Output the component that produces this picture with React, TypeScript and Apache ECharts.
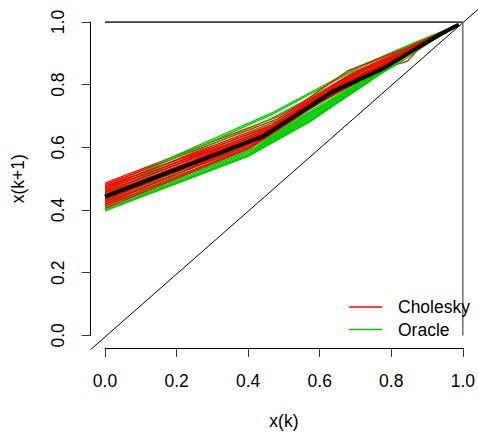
import React, { useEffect, useRef } from "react";
import * as echarts from "echarts";

// Each trajectory: successive values x(0), x(1), x(2), ... ; plotted as (x(k), x(k+1))
const choleskyRuns: number[][] = [
  [0, 0.486, 0.700, 0.842, 0.915, 0.955, 0.975, 0.985, 0.990],
  [0, 0.481, 0.690, 0.835, 0.910, 0.951, 0.973, 0.984, 0.990],
  [0, 0.476, 0.672, 0.815, 0.895, 0.942, 0.967, 0.981, 0.988, 0.991],
  [0, 0.472, 0.680, 0.845, 0.918, 0.956, 0.976, 0.986, 0.990],
  [0, 0.468, 0.662, 0.800, 0.880, 0.930, 0.960, 0.977, 0.986, 0.990],
  [0, 0.464, 0.670, 0.822, 0.900, 0.944, 0.968, 0.981, 0.988, 0.991],
  [0, 0.460, 0.655, 0.795, 0.874, 0.925, 0.956, 0.974, 0.984, 0.989, 0.991],
  [0, 0.456, 0.660, 0.812, 0.890, 0.937, 0.964, 0.979, 0.987, 0.991],
  [0, 0.452, 0.645, 0.785, 0.865, 0.918, 0.951, 0.971, 0.983, 0.989, 0.991],
  [0, 0.448, 0.650, 0.800, 0.878, 0.928, 0.958, 0.975, 0.985, 0.990],
  [0, 0.444, 0.636, 0.776, 0.856, 0.910, 0.945, 0.967, 0.980, 0.987, 0.991],
  [0, 0.440, 0.642, 0.790, 0.870, 0.922, 0.954, 0.973, 0.984, 0.989, 0.991],
  [0, 0.435, 0.625, 0.765, 0.848, 0.904, 0.941, 0.964, 0.978, 0.986, 0.990],
  [0, 0.430, 0.630, 0.782, 0.866, 0.920, 0.953, 0.972, 0.984, 0.989, 0.991],
  [0, 0.425, 0.615, 0.758, 0.845, 0.875, 0.912, 0.940, 0.960, 0.974, 0.983, 0.989, 0.991],
  [0, 0.419, 0.620, 0.770, 0.855, 0.910, 0.946, 0.968, 0.981, 0.988, 0.991],
  [0, 0.413, 0.605, 0.748, 0.835, 0.893, 0.933, 0.959, 0.975, 0.985, 0.990],
  [0, 0.406, 0.598, 0.742, 0.832, 0.892, 0.932, 0.958, 0.975, 0.985, 0.990],
];

const oracleRuns: number[][] = [
  [0, 0.474, 0.714, 0.860, 0.932, 0.965, 0.981, 0.988, 0.991],
  [0, 0.467, 0.705, 0.850, 0.925, 0.961, 0.979, 0.987, 0.991],
  [0, 0.462, 0.690, 0.830, 0.906, 0.948, 0.971, 0.983, 0.989, 0.991],
  [0, 0.457, 0.672, 0.810, 0.888, 0.935, 0.962, 0.978, 0.987, 0.991],
  [0, 0.453, 0.658, 0.792, 0.870, 0.920, 0.952, 0.971, 0.983, 0.989, 0.991],
  [0, 0.449, 0.646, 0.776, 0.855, 0.907, 0.942, 0.965, 0.979, 0.987, 0.991],
  [0, 0.445, 0.638, 0.765, 0.845, 0.900, 0.937, 0.961, 0.976, 0.985, 0.990],
  [0, 0.441, 0.628, 0.752, 0.835, 0.892, 0.931, 0.957, 0.974, 0.984, 0.990],
  [0, 0.437, 0.620, 0.742, 0.826, 0.885, 0.926, 0.954, 0.972, 0.983, 0.989, 0.991],
  [0, 0.433, 0.612, 0.733, 0.818, 0.878, 0.921, 0.950, 0.969, 0.981, 0.988, 0.991],
  [0, 0.428, 0.604, 0.725, 0.811, 0.872, 0.916, 0.947, 0.967, 0.980, 0.987, 0.991],
  [0, 0.423, 0.598, 0.716, 0.803, 0.866, 0.912, 0.944, 0.965, 0.978, 0.986, 0.990],
  [0, 0.418, 0.592, 0.708, 0.795, 0.860, 0.907, 0.940, 0.962, 0.976, 0.985, 0.990],
  [0, 0.413, 0.586, 0.700, 0.787, 0.853, 0.902, 0.936, 0.959, 0.974, 0.984, 0.989, 0.991],
  [0, 0.408, 0.580, 0.692, 0.779, 0.846, 0.896, 0.932, 0.956, 0.972, 0.982, 0.988, 0.991],
  [0, 0.403, 0.575, 0.686, 0.772, 0.838, 0.889, 0.927, 0.953, 0.970, 0.981, 0.988, 0.991],
  [0, 0.399, 0.571, 0.681, 0.766, 0.832, 0.882, 0.921, 0.949, 0.967, 0.979, 0.987, 0.991],
  [0, 0.397, 0.570, 0.680, 0.765, 0.830, 0.875, 0.910, 0.937, 0.956, 0.970, 0.980, 0.986, 0.990],
];

const meanRun: number[] = [0, 0.443, 0.636, 0.778, 0.852, 0.903, 0.938, 0.961, 0.975, 0.984, 0.989, 0.991];

const diagonalExtent: number[] = [-0.04, 1.04];
const topLine: number[][] = [[0, 1], [1, 1]];
const rightLine: number[][] = [[1, 0], [1, 1]];
const tickValues: number[] = [0, 0.2, 0.4, 0.6, 0.8, 1.0];

const FONT = "'Liberation Sans', Arial, Helvetica, sans-serif";
const RED = "#FF0000";
const GREEN = "#00CD00";

function toPairs(run: number[]): number[][] {
  const out: number[][] = [];
  for (let i = 0; i < run.length - 1; i++) out.push([run[i], run[i + 1]]);
  return out;
}

export default function App() {
  const ref = useRef<HTMLDivElement>(null);
  useEffect(() => {
    if (!ref.current) return;
    const chart = echarts.init(ref.current, null, { renderer: "svg" });

    const series: any[] = [];
    const n = Math.max(choleskyRuns.length, oracleRuns.length);
    for (let i = 0; i < n; i++) {
      if (choleskyRuns[i]) {
        series.push({
          name: "Cholesky",
          type: "line",
          data: toPairs(choleskyRuns[i]),
          showSymbol: false,
          silent: true,
          color: RED,
          itemStyle: { color: RED },
          lineStyle: { color: RED, width: 1.3 },
          z: 2,
        });
      }
      if (oracleRuns[i]) {
        series.push({
          name: "Oracle",
          type: "line",
          data: toPairs(oracleRuns[i]),
          showSymbol: false,
          silent: true,
          color: GREEN,
          itemStyle: { color: GREEN },
          lineStyle: { color: GREEN, width: 1.3 },
          z: 2,
        });
      }
    }
    series.push({
      name: "mean",
      type: "line",
      data: toPairs(meanRun),
      showSymbol: false,
      silent: true,
      lineStyle: { color: "#000", width: 4 },
      z: 3,
    });
    series.push({
      name: "diag",
      type: "line",
      xAxisIndex: 1,
      yAxisIndex: 1,
      data: diagonalExtent.map((v) => [v, v]),
      showSymbol: false,
      silent: true,
      lineStyle: { color: "#000", width: 1 },
      z: 1,
    });
    series.push({
      name: "top",
      type: "line",
      data: topLine,
      showSymbol: false,
      silent: true,
      lineStyle: { color: "#000", width: 1.3 },
      z: 1,
    });
    series.push({
      name: "right",
      type: "line",
      data: rightLine,
      showSymbol: false,
      silent: true,
      lineStyle: { color: "#666", width: 1.4 },
      z: 1,
    });

    const axisCommon = {
      type: "value",
      min: tickValues[0],
      max: tickValues[tickValues.length - 1],
      interval: 0.2,
      splitLine: { show: false },
      axisLine: { show: true, onZero: false, lineStyle: { color: "#000", width: 1 } },
      axisTick: { show: true, length: 9, lineStyle: { color: "#333", width: 1 } },
      nameLocation: "middle",
      nameGap: 64,
      nameTextStyle: { fontSize: 17.5, color: "#000", fontFamily: FONT },
    };
    const hiddenAxis = {
      type: "value",
      gridIndex: 1,
      min: diagonalExtent[0],
      max: diagonalExtent[1],
      show: false,
      splitLine: { show: false },
    };

    chart.setOption({
      animation: false,
      backgroundColor: "#fff",
      grid: [
        { left: 105, top: 22, width: 360, height: 315, containLabel: false },
        { left: 90.6, top: 9.4, width: 388.8, height: 340.2, containLabel: false },
      ],
      xAxis: [
        {
          ...axisCommon,
          position: "bottom",
          offset: 12.6,
          name: "x(k)",
          axisLabel: {
            formatter: (v: number) => v.toFixed(1),
            fontSize: 17.5,
            color: "#000",
            fontFamily: FONT,
            margin: 24,
          },
        },
        hiddenAxis,
      ],
      yAxis: [
        {
          ...axisCommon,
          position: "left",
          offset: 14.4,
          name: "x(k+1)",
          axisLabel: {
            formatter: (v: number) => v.toFixed(1),
            fontSize: 17.5,
            color: "#000",
            fontFamily: FONT,
            margin: 24,
            rotate: 90,
          },
        },
        hiddenAxis,
      ],
      legend: {
        data: [
          { name: "Cholesky", itemStyle: { color: RED } },
          { name: "Oracle", itemStyle: { color: GREEN } },
        ],
        orient: "vertical",
        left: 344,
        top: 293,
        itemWidth: 33,
        itemHeight: 1.5,
        itemGap: 4.5,
        icon: "rect",
        selectedMode: false,
        textStyle: { fontSize: 17.5, color: "#000", fontFamily: FONT, padding: [0, 0, 0, 11] },
      },
      series,
    });
    return () => chart.dispose();
  }, []);
  return (
    <div
      ref={ref}
      style={{ position: "fixed", left: 0, top: 0, width: 478, height: 435, background: "#fff" }}
    />
  );
}
